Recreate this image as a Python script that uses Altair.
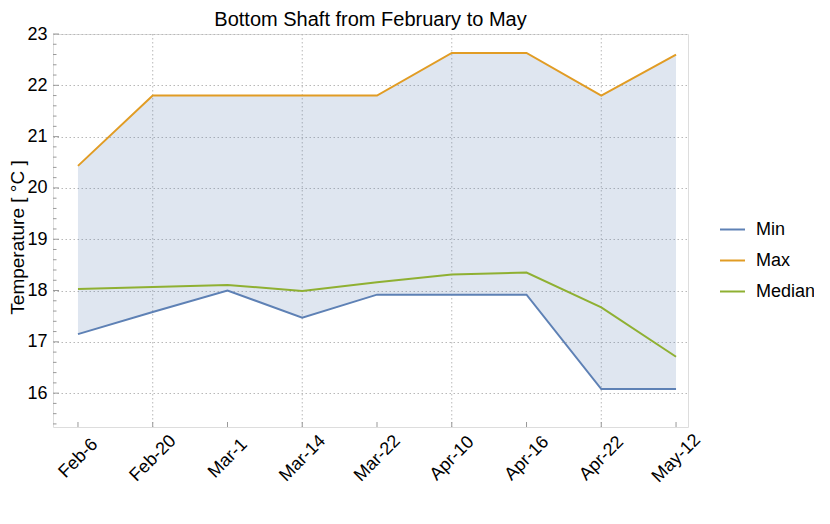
import json
import altair as alt
import pandas as pd

dates = ["Feb-6", "Feb-20", "Mar-1", "Mar-14", "Mar-22", "Apr-10", "Apr-16", "Apr-22", "May-12"]
t_min = [17.15, 17.58, 18.00, 17.47, 17.92, 17.92, 17.92, 16.08, 16.08]
t_max = [20.43, 21.80, 21.80, 21.80, 21.80, 22.63, 22.63, 21.80, 22.60]
t_med = [18.03, 18.07, 18.11, 17.99, 18.16, 18.31, 18.35, 17.67, 16.71]
series = ["Min", "Max", "Median"]
colors = ["#5e81b5", "#e19c24", "#8fb032"]
x_grid_idx = [1, 3, 5, 7]
y_major = [16, 17, 18, 19, 20, 21, 22, 23]
y_minor = [15.4, 15.6, 15.8, 16.2, 16.4, 16.6, 16.8, 17.2, 17.4, 17.6, 17.8,
           18.2, 18.4, 18.6, 18.8, 19.2, 19.4, 19.6, 19.8, 20.2, 20.4, 20.6, 20.8,
           21.2, 21.4, 21.6, 21.8, 22.2, 22.4, 22.6, 22.8]

W, H = 635, 393
FONT = "Liberation Sans"

df = pd.DataFrame({"idx": list(range(len(dates))), "date": dates,
                   "Min": t_min, "Max": t_max, "Median": t_med})
df_xgrid = pd.DataFrame({"idx": x_grid_idx})
df_xticks = pd.DataFrame({"idx": list(range(len(dates)))})
df_ymaj = pd.DataFrame({"v": y_major})
df_ymin = pd.DataFrame({"v": y_minor})

xscale = alt.Scale(domain=[-0.334, 8.16], nice=False, zero=False)
yscale = alt.Scale(domain=[15.34, 23], nice=False, zero=False)

xaxis = alt.Axis(values=list(range(len(dates))),
                 labelExpr=json.dumps(dates) + "[datum.value]",
                 grid=False, ticks=False, domain=False,
                 labelAngle=-45, labelAlign="center", labelBaseline="middle",
                 labelPadding=31, labelFontSize=18, labelFont=FONT,
                 labelColor="black", title=None)
yaxis = alt.Axis(values=y_major, grid=True, gridColor="#b8b8b8",
                 gridDash=[1.5, 2.5], gridWidth=1, ticks=False, domain=False,
                 labelFontSize=18, labelFont=FONT, labelColor="black",
                 labelPadding=6, title="Temperature [ °C ]",
                 titleFontSize=19, titleFont=FONT, titleFontWeight="normal",
                 titleColor="black", titleX=-36, titleY=203,
                 titleAlign="center", titleBaseline="middle", titleAngle=-90)

X = lambda f: alt.X(f, scale=xscale, axis=xaxis, title=None)
TY = "Temperature [ °C ]"

vgrid = alt.Chart(df_xgrid).mark_rule(color="#b8b8b8", strokeDash=[1.5, 2.5],
                                      strokeWidth=1).encode(x=X("idx:Q"))

area = alt.Chart(df).mark_area(color="#5e81b5", opacity=0.2).encode(
    x=X("idx:Q"),
    y=alt.Y("Min:Q", scale=yscale, axis=yaxis, title=TY),
    y2="Max:Q",
)

lines = alt.Chart(df).transform_fold(series, as_=["series", "temp"]).mark_line(
    strokeWidth=2).encode(
    x=X("idx:Q"),
    y=alt.Y("temp:Q", scale=yscale, axis=yaxis, title=TY),
    color=alt.Color("series:N", scale=alt.Scale(domain=series, range=colors),
                    sort=series,
                    legend=alt.Legend(title=None, orient="none", legendX=666,
                                      legendY=182, symbolType="stroke",
                                      symbolSize=625, symbolStrokeWidth=2,
                                      labelFontSize=18, labelFont=FONT,
                                      labelColor="black", labelOffset=10,
                                      rowPadding=8, padding=0)),
)

xticks = alt.Chart(df_xticks).mark_rule(color="#999999", strokeWidth=1).encode(
    x=X("idx:Q"), y=alt.value(H), y2=alt.value(H - 5))

ymaj = alt.Chart(df_ymaj).mark_rule(color="#999999", strokeWidth=1).encode(
    y=alt.Y("v:Q", scale=yscale, axis=yaxis, title=TY),
    x=alt.value(0), x2=alt.value(6))
ymin = alt.Chart(df_ymin).mark_rule(color="#999999", strokeWidth=1).encode(
    y=alt.Y("v:Q", scale=yscale, axis=yaxis, title=TY),
    x=alt.value(0), x2=alt.value(3.5))

chart = alt.layer(vgrid, area, lines, xticks, ymaj, ymin).properties(
    width=W, height=H,
    title=alt.Title("Bottom Shaft from February to May", fontSize=20,
                    font=FONT, fontWeight="normal", color="black", offset=-5),
    autosize=alt.AutoSizeParams(type="none"),
    padding={"left": 45, "top": 26, "right": 126, "bottom": 80},
).configure_view(stroke="#999999", strokeWidth=1).configure(font=FONT)

chart.save("out.html", embed_options={"renderer": "svg", "actions": False})
